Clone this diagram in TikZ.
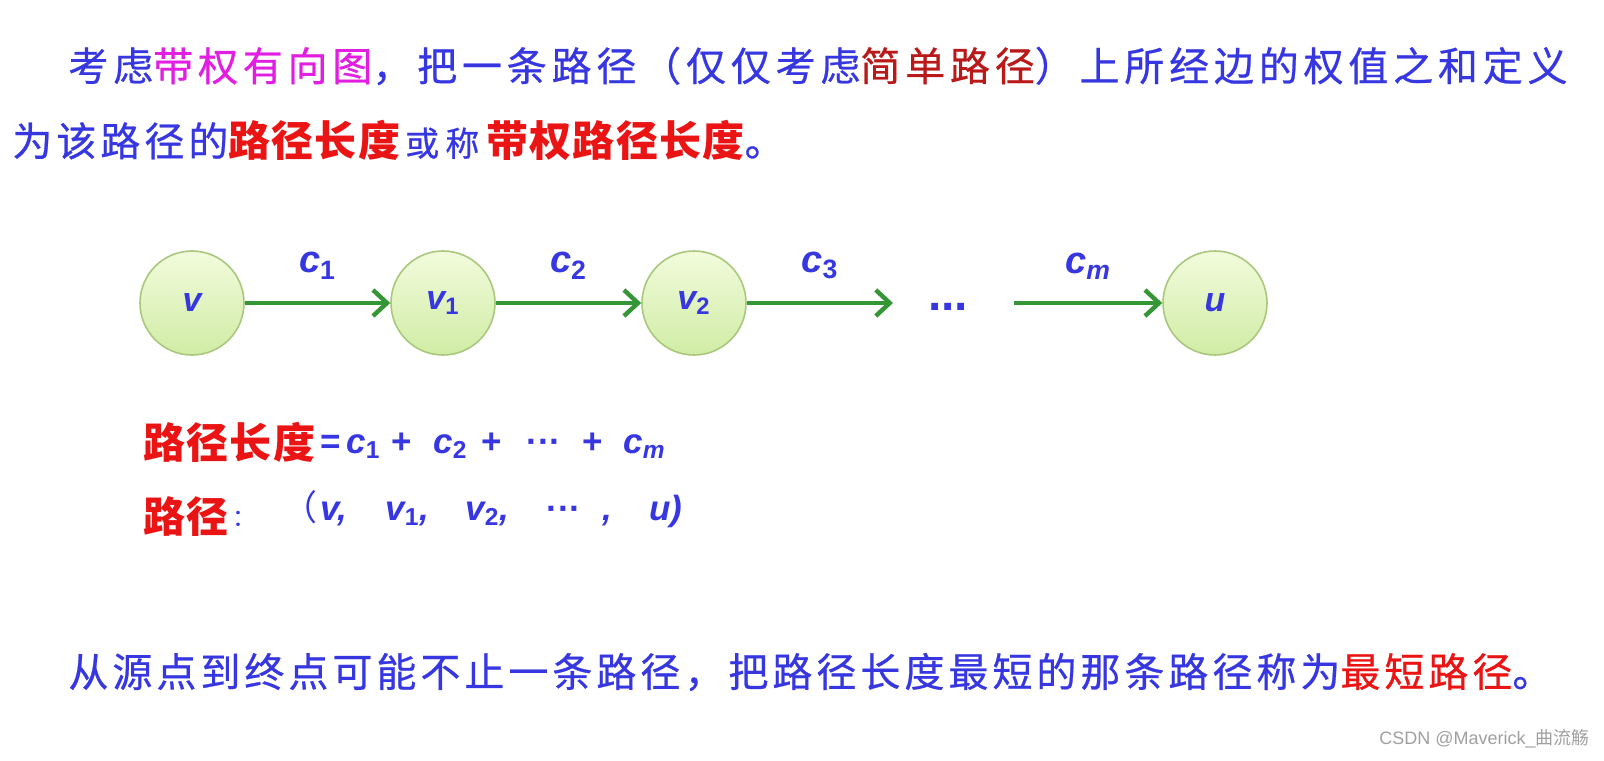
\documentclass[tikz,border=0pt]{standalone}
\usepackage{fontspec}
\setmainfont{Liberation Sans}
\newfontfamily\cjk[LetterSpace=10,FakeBold=0.6]{Noto Sans CJK SC}
\newfontfamily\cjkw[LetterSpace=12,FakeBold=0.6]{Noto Sans CJK SC}
\newfontfamily\cjks[LetterSpace=18,FakeBold=0.6]{Noto Sans CJK SC}
\newfontfamily\cjkr[LetterSpace=3]{Noto Sans CJK SC}
\newfontfamily\cjkplain{Noto Sans CJK SC}
\usetikzlibrary{arrows.meta}
\definecolor{blueT}{RGB}{55,55,225}
\definecolor{redT}{RGB}{235,20,20}
\definecolor{magT}{RGB}{225,30,225}
\definecolor{dredT}{RGB}{185,25,25}
\definecolor{greenA}{RGB}{52,150,52}
\definecolor{nodeTop}{RGB}{242,251,220}
\definecolor{nodeBot}{RGB}{208,236,165}
\definecolor{nodeDraw}{RGB}{170,200,125}
\definecolor{wmark}{RGB}{160,160,160}
\begin{document}
\begin{tikzpicture}[x=0.5pt,y=-0.5pt,
  vtx/.style={circle, minimum size=52pt, inner sep=0pt, draw=nodeDraw, line width=0.8pt,
    top color=nodeTop, bottom color=nodeBot, text=blueT,
    font=\fontsize{17pt}{20pt}\selectfont\bfseries\itshape},
  edg/.style={draw=greenA, line width=2pt, -{Straight Barb[length=7pt,width=13pt,line width=2.2pt]}},
  elab/.style={text=blueT, font=\fontsize{19pt}{22pt}\selectfont\bfseries\itshape, inner sep=0pt},
  txt/.style={anchor=west, inner sep=0pt},
  ftx/.style={anchor=base west, inner sep=0pt, text=blueT, font=\fontsize{17.5pt}{20pt}\selectfont\bfseries\itshape},
  rtx/.style={anchor=west, inner sep=0pt, text=redT, font=\fontsize{21pt}{24pt}\selectfont\cjkr\bfseries}]
\fill[white] (0,0) rectangle (1604,760);
\useasboundingbox (0,0) rectangle (1604,760);

% top paragraph
\node[txt] (l1) at (68,66) {\fontsize{20pt}{24pt}\selectfont\cjkw
  \color{blueT}考虑{\color{magT}带权有向图}，把一条路径（仅仅考虑{\color{dredT}简单路径}）上所经边的权值之和定义};
\node[txt] (l2) at (12,140) {\fontsize{20pt}{24pt}\selectfont\cjk
  {\color{blueT}为该路径的}{\color{redT}\cjkr\bfseries\fontsize{21pt}{24pt}\selectfont 路径长度}{\color{blueT}\cjks\fontsize{17pt}{20pt}\selectfont\hspace{2.5pt}或称\hspace{3.5pt}}{\color{redT}\cjkr\bfseries\fontsize{21pt}{24pt}\selectfont 带权路径长度}{\color{blueT}。}};

% graph
\node[vtx] (v) at (192,303) {v};
\node[vtx] (v1) at (443,303) {v\textsubscript{\upshape 1}};
\node[vtx] (v2) at (694,303) {v\textsubscript{\upshape 2}};
\node[inner sep=0pt, text=blueT, font=\fontsize{24pt}{26pt}\selectfont\bfseries, anchor=base] (dots) at (948,310) {...};
\coordinate (s4) at (1014,303);
\node[vtx] (u) at (1215,303) {u};
\draw[edg] (v) -- node[elab, above=11pt] {c\textsubscript{\upshape 1}} (v1);
\draw[edg] (v1) -- node[elab, above=11pt] {c\textsubscript{\upshape 2}} (v2);
\draw[edg] (v2) -- node[elab, above=11pt] {c\textsubscript{\upshape 3}} (893,303) coordinate (e3);
\draw[edg] (s4) -- node[elab, above=11pt] {c\textsubscript{m}} (u);

% formula: path length
\node[rtx] (f1) at (143,442) {路径长度};
\node[ftx] (f1a) at (320,453) {\upshape =};
\node[ftx] (f1b) at (346,453) {c\textsubscript{\upshape 1}};
\node[ftx] (f1c) at (391,453) {\upshape +};
\node[ftx] (f1d) at (433,453) {c\textsubscript{\upshape 2}};
\node[ftx] (f1e) at (481,453) {\upshape +};
\node[ftx] (f1f) at (526,453) {\upshape ···};
\node[ftx] (f1g) at (582,453) {\upshape +};
\node[ftx] (f1h) at (623,453) {c\textsubscript{m}};

% formula: path
\node[rtx] (f2) at (143,517) {路径};
\node[txt, text=blueT, font=\fontsize{12pt}{14pt}\selectfont\cjkplain] (f2a) at (232,519) {：};
\node[ftx, font=\fontsize{17.5pt}{20pt}\selectfont\cjkplain] (f2b) at (282,520) {（};
\node[ftx] (f2c) at (320,520) {v,};
\node[ftx] (f2d) at (385,520) {v\textsubscript{\upshape 1},};
\node[ftx] (f2e) at (465,520) {v\textsubscript{\upshape 2},};
\node[ftx] (f2f) at (546,520) {\upshape ···};
\node[ftx] (f2g) at (602,520) {,};
\node[ftx] (f2h) at (649,520) {u)};

% bottom line
\node[txt] (l3) at (68,672) {\fontsize{20pt}{24pt}\selectfont\cjk
  \color{blueT}从源点到终点可能不止一条路径，把路径长度最短的那条路径称为{\color{redT}最短路径}。};

% watermark
\node[anchor=east, inner sep=0pt, text=wmark, font=\fontsize{9pt}{11pt}\selectfont] (wm) at (1590,739) {CSDN @Maverick\_{\cjkplain 曲流觞}};
\end{tikzpicture}
\end{document}
